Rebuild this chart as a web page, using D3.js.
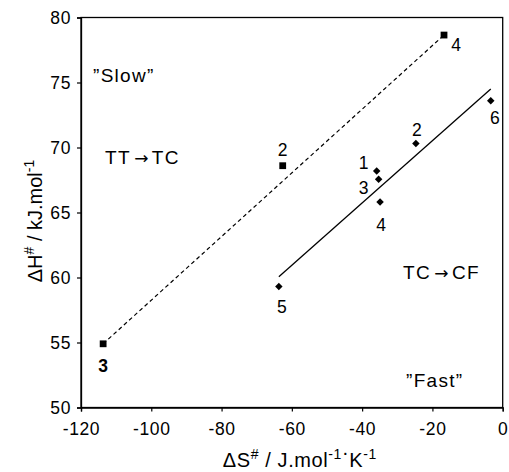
<!DOCTYPE html>
<html>
<head>
<meta charset="utf-8">
<script src="https://cdn.jsdelivr.net/npm/d3@7"></script>
<style>
  body { margin: 0; background: #fff; }
  svg { font-family: "Liberation Sans", Arial, sans-serif; }
</style>
</head>
<body>
<svg id="chart" width="509" height="472"></svg>
<script>
// TT -> TC series (squares)
const ttDS = [-113.7, -62.6, -16.7];
const ttDH = [54.9, 68.6, 78.65];
const ttLabels = ["3", "2", "4"];

// TC -> CF series (diamonds)
const tcDS = [-35.85, -24.7, -35.3, -34.9, -63.7, -3.4];
const tcDH = [68.2, 70.3, 67.55, 65.8, 59.3, 73.6];
const tcLabels = ["1", "2", "3", "4", "5", "6"];

// trend lines, end points
const ttFitDS = [-113.7, -16.7];
const ttFitDH = [54.9, 78.65];
const tcFitDS = [-63.7, -3.4];
const tcFitDH = [60.05, 74.5];

const xTicks = [-120, -100, -80, -60, -40, -20, 0];
const yTicks = [50, 55, 60, 65, 70, 75, 80];

const svg = d3.select("#chart");
const margin = { top: 17.5, right: 6.3, bottom: 64.5, left: 81 };
const width = 509 - margin.left - margin.right;
const height = 472 - margin.top - margin.bottom;
const g = svg.append("g").attr("transform", `translate(${margin.left},${margin.top})`);

const x = d3.scaleLinear().domain([-120, 0]).range([0, width]);
const y = d3.scaleLinear().domain([50, 80]).range([height, 0]);

// frame
g.append("rect")
  .attr("width", width).attr("height", height)
  .attr("fill", "none").attr("stroke", "#000").attr("stroke-width", 1.3);

// axes (plain hyphen for minus, like the original)
const fmt = d => String(d);
const xAxis = g.append("g")
  .attr("transform", `translate(0,${height})`)
  .call(d3.axisBottom(x).tickValues(xTicks).tickSize(4).tickPadding(11).tickFormat(fmt));
const yAxis = g.append("g")
  .call(d3.axisLeft(y).tickValues(yTicks).tickSize(4).tickPadding(6).tickFormat(fmt));

[xAxis, yAxis].forEach(a => {
  a.select(".domain").attr("stroke", "#000").attr("stroke-width", 1.3);
  a.selectAll(".tick line").attr("stroke", "#000").attr("stroke-width", 1.2);
  a.selectAll(".tick text")
    .attr("fill", "#000")
    .style("font-family", "'Liberation Sans', Arial, sans-serif")
    .style("font-size", "17.5px")
    .style("letter-spacing", "0.6px");
});
xAxis.selectAll(".tick text").attr("dy", "0.71em");
yAxis.selectAll(".tick text").attr("dy", "0.36em");

// lines
const line = d3.line().x(d => x(d[0])).y(d => y(d[1]));
g.append("path")
  .datum(d3.zip(ttFitDS, ttFitDH))
  .attr("d", line)
  .attr("fill", "none").attr("stroke", "#000")
  .attr("stroke-width", 1.2).attr("stroke-dasharray", "4,3");
g.append("path")
  .datum(d3.zip(tcFitDS, tcFitDH))
  .attr("d", line)
  .attr("fill", "none").attr("stroke", "#000").attr("stroke-width", 1.3);

// markers
const ttData = ttDS.map((d, i) => ({ s: d, h: ttDH[i], label: ttLabels[i] }));
const tcData = tcDS.map((d, i) => ({ s: d, h: tcDH[i], label: tcLabels[i] }));

g.selectAll(".sq").data(ttData).enter().append("path")
  .attr("class", "sq")
  .attr("d", d3.symbol().type(d3.symbolSquare).size(46))
  .attr("transform", d => `translate(${x(d.s)},${y(d.h)})`)
  .attr("fill", "#000");

g.selectAll(".dm").data(tcData).enter().append("path")
  .attr("class", "dm")
  .attr("d", d3.symbol().type(d3.symbolSquare).size(28))
  .attr("transform", d => `translate(${x(d.s)},${y(d.h)}) rotate(45)`)
  .attr("fill", "#000");

// point labels (offsets in pixels from the marker)
const ttOff = [[0, 22], [0, -16], [12, 10]];
const tcOff = [[-13, -8], [1, -14], [-15, 8], [1, 23], [3, 20], [4, 17]];

g.selectAll(".sqlab").data(ttData).enter().append("text")
  .attr("class", "sqlab")
  .attr("x", (d, i) => x(d.s) + ttOff[i][0])
  .attr("y", (d, i) => y(d.h) + ttOff[i][1])
  .attr("dy", "0.36em")
  .attr("text-anchor", "middle")
  .style("font-size", "17.5px")
  .style("font-weight", (d, i) => i === 0 ? "bold" : "normal")
  .text(d => d.label);

g.selectAll(".dmlab").data(tcData).enter().append("text")
  .attr("class", "dmlab")
  .attr("x", (d, i) => x(d.s) + tcOff[i][0])
  .attr("y", (d, i) => y(d.h) + tcOff[i][1])
  .attr("dy", "0.36em")
  .attr("text-anchor", "middle")
  .style("font-size", "17.5px")
  .text(d => d.label);

// region annotations
const notes = [
  { a: "\u201DSlow\u201D", px: 93, py: 82 },
  { a: "TT", arrow: true, b: "TC", px: 105, py: 164 },
  { a: "TC", arrow: true, b: "CF", px: 403, py: 279 },
  { a: "\u201DFast\u201D", px: 406, py: 387 }
];
const nt = svg.selectAll(".note").data(notes).enter().append("text")
  .attr("class", "note")
  .attr("x", d => d.px).attr("y", d => d.py)
  .style("font-size", "19px")
  .style("letter-spacing", "1.3px");
nt.append("tspan").text(d => d.a);
nt.filter(d => d.arrow).append("tspan")
  .style("font-family", "'DejaVu Sans', sans-serif")
  .style("font-size", "17px")
  .style("letter-spacing", "0px")
  .text("\u2009\u2192\u2009");
nt.filter(d => d.arrow).append("tspan").text(d => d.b);

// axis titles
const xt = svg.append("text")
  .attr("x", margin.left + width / 2 + 8).attr("y", 467)
  .attr("text-anchor", "middle")
  .style("font-size", "20px")
  .style("letter-spacing", "0.6px");
xt.append("tspan").text("\u0394S");
xt.append("tspan").attr("dy", -8).style("font-size", "14px").text("#");
xt.append("tspan").attr("dy", 8).text(" / J.mol");
xt.append("tspan").attr("dy", -8).style("font-size", "14px").text("-1");
xt.append("tspan").attr("dy", 0).text("\u00B7");
xt.append("tspan").attr("dy", 8).text("K");
xt.append("tspan").attr("dy", -8).style("font-size", "14px").text("-1");

const yt = svg.append("text")
  .attr("transform", `translate(42,221) rotate(-90)`)
  .attr("text-anchor", "middle")
  .style("font-size", "20px");
yt.append("tspan").text("\u0394H");
yt.append("tspan").attr("dy", -8).style("font-size", "14px").text("#");
yt.append("tspan").attr("dy", 8).text(" / kJ.mol");
yt.append("tspan").attr("dy", -8).style("font-size", "14px").text("-1");
</script>
</body>
</html>
